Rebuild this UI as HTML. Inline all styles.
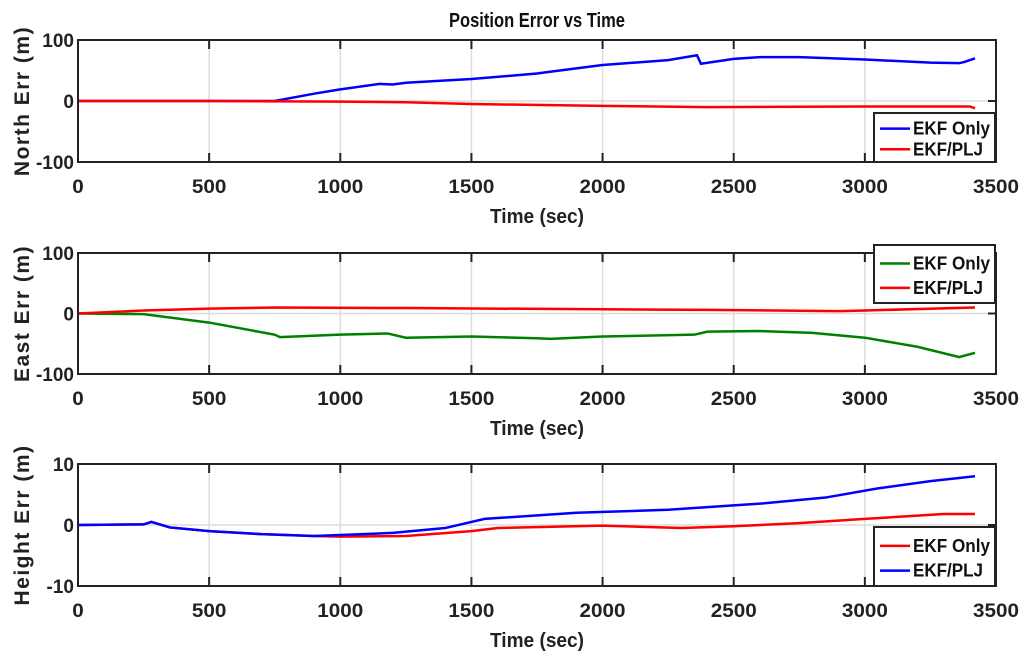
<!DOCTYPE html>
<html><head><meta charset="utf-8"><style>
html,body{margin:0;padding:0;background:#fff;}
svg{display:block;font-family:"Liberation Sans",Arial,sans-serif;font-weight:bold;}
</style></head><body>
<svg id="fig" width="1024" height="664" viewBox="0 0 1024 664"></svg>
<script>
// North
const northT = [0,250,500,750,900,1000,1150,1200,1250,1500,1750,1800,2000,2250,2360,2375,2500,2600,2750,3000,3250,3360,3380,3420];
const northEkf = [0,0,0,0,12,19,28,27,30,36,45,48,59,67,75,61,69,72,72,68,63,62,64,70];
const northRedT = [0,500,1000,1250,1500,2000,2400,3000,3400,3420];
const northPlj = [0,0,-1,-2,-5,-8,-10,-9,-9,-12];
// East
const eastT = [0,250,500,750,770,1000,1180,1250,1500,1750,1800,2000,2350,2400,2600,2800,3000,3200,3360,3420];
const eastEkf = [0,-1,-15,-35,-39,-35,-33,-40,-38,-41,-42,-38,-35,-30,-29,-32,-40,-55,-72,-65];
const eastRedT = [0,250,500,750,1250,2000,2400,2900,3000,3420];
const eastPlj = [0,5,8,10,9,7,6,4,5,10];
// Height
const hT = [0,250,280,350,500,700,900,1000,1250,1500,1600,2000,2300,2500,2750,3000,3300,3420];
const hEkf = [0,0.1,0.5,-0.4,-1,-1.5,-1.8,-1.9,-1.8,-1,-0.5,-0.1,-0.5,-0.2,0.3,1,1.8,1.8];
const hBlueT = [0,250,280,350,500,700,900,1200,1400,1550,1900,2250,2600,2850,3050,3250,3420];
const hPlj = [0,0.1,0.5,-0.4,-1,-1.5,-1.8,-1.3,-0.5,1,2,2.5,3.5,4.5,6,7.2,8];
const xTicks = [0,500,1000,1500,2000,2500,3000,3500];
const ns="http://www.w3.org/2000/svg";
const svg=document.getElementById('fig');
const X0=78,X1=996;
function sx(v){return X0+(v/3500)*(X1-X0);}
function mk(tag,attrs,parent){const e=document.createElementNS(ns,tag);for(const k in attrs)e.setAttribute(k,attrs[k]);(parent||svg).appendChild(e);return e;}
function txt(s,attrs){const e=mk('text',attrs);e.textContent=s;return e;}
function panel(key,top,bot,ymin,ymax,yticks,ylabel,series,legend){
  const g=mk('g',{});
  
  
  const sy=v=>bot-(v-ymin)/(ymax-ymin)*(bot-top);
  xTicks.forEach(t=>{
    const l=mk('line',{x1:sx(t),x2:sx(t),y1:top,y2:bot,stroke:'#dcdcdc','stroke-width':1.5},g);
    
    
    mk('line',{x1:sx(t),x2:sx(t),y1:top,y2:top+9,stroke:'#222','stroke-width':2},g);
    mk('line',{x1:sx(t),x2:sx(t),y1:bot,y2:bot-9,stroke:'#222','stroke-width':2},g);
    const lb=txt(String(t),{x:sx(t),y:bot+31,'text-anchor':'middle','font-size':19,fill:'#222',textLength:String(t).length*11.5,lengthAdjust:'spacingAndGlyphs'});
    
    
  });
  mk('line',{x1:X0,x2:X1,y1:sy(0),y2:sy(0),stroke:'#dcdcdc','stroke-width':1.5},g);
  yticks.forEach(t=>{
    const lb=txt(String(t),{x:X0-4,y:sy(t)+7,'text-anchor':'end','font-size':19,fill:'#222'});
    
    
    mk('line',{x1:X1,x2:X1-8,y1:sy(t),y2:sy(t),stroke:'#222','stroke-width':2},g);
  });
  series.forEach(s=>{
    const p=mk('polyline',{points:s.t.map((t,i)=>sx(t)+','+sy(s.v[i])).join(' '),fill:'none',stroke:s.c,'stroke-width':2.5},g);
    
    
  });
  const fr=mk('rect',{x:X0,y:top,width:X1-X0,height:bot-top,fill:'none',stroke:'#222','stroke-width':2},g);
  
  
  const yl=txt(ylabel,{x:0,y:0,transform:`translate(29,${(top+bot)/2}) rotate(-90)`,'text-anchor':'middle','font-size':21,fill:'#222','letter-spacing':'1.5'});
  
  
  const xl=txt('Time (sec)',{x:(X0+X1)/2,y:bot+61,'text-anchor':'middle','font-size':20,fill:'#222',textLength:94,lengthAdjust:'spacingAndGlyphs'});
  
  
  const lg=mk('g',{});
  
  
  mk('rect',{x:874,y:legend.y,width:121,height:legend.h,fill:'#fff',stroke:'#222','stroke-width':2},lg);
  legend.items.forEach((it,i)=>{
    const yy=legend.y+legend.h*(i===0?0.32:0.74);
    mk('line',{x1:880,x2:910,y1:yy,y2:yy,stroke:it.c,'stroke-width':2.5},lg);
    const t=txt(it.l,{x:913,y:yy+6,'font-size':18,fill:'#111',textLength:it.l.length>7?77:70,lengthAdjust:'spacingAndGlyphs'});
    lg.appendChild(t);
    
    
  });
}
const tt=txt('Position Error vs Time',{x:537,y:27,'text-anchor':'middle','font-size':20,fill:'#111',textLength:176,lengthAdjust:'spacingAndGlyphs'});


panel('north',40,162,-100,100,[100,0,-100],'North Err (m)',
  [{t:northT,v:northEkf,c:'#0000ff',name:'north-ekf-only-line'},{t:northRedT,v:northPlj,c:'#ff0000',name:'north-ekf-plj-line'}],
  {y:113,h:49,items:[{l:'EKF Only',c:'#0000ff'},{l:'EKF/PLJ',c:'#ff0000'}]});
panel('east',253,374,-100,100,[100,0,-100],'East Err (m)',
  [{t:eastT,v:eastEkf,c:'#008000',name:'east-ekf-only-line'},{t:eastRedT,v:eastPlj,c:'#ff0000',name:'east-ekf-plj-line'}],
  {y:245,h:58,items:[{l:'EKF Only',c:'#008000'},{l:'EKF/PLJ',c:'#ff0000'}]});
panel('height',464,586,-10,10,[10,0,-10],'Height Err (m)',
  [{t:hT,v:hEkf,c:'#ff0000',name:'height-ekf-only-line'},{t:hBlueT,v:hPlj,c:'#0000ff',name:'height-ekf-plj-line'}],
  {y:527,h:59,items:[{l:'EKF Only',c:'#ff0000'},{l:'EKF/PLJ',c:'#0000ff'}]});
</script>
</body></html>
